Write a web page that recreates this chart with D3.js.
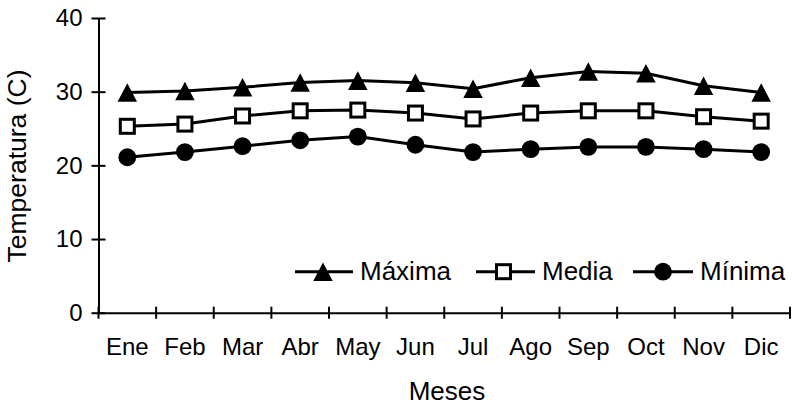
<!DOCTYPE html>
<html>
<head>
<meta charset="utf-8">
<script src="https://cdn.jsdelivr.net/npm/d3@7/dist/d3.min.js"></script>
<style>
  html, body { margin: 0; padding: 0; background: #fff; }
  svg { display: block; }
  text { font-family: "Liberation Sans", Arial, sans-serif; fill: #000; }
</style>
</head>
<body>
<svg id="chart" width="792" height="405"></svg>
<script>
const months = ["Ene","Feb","Mar","Abr","May","Jun","Jul","Ago","Sep","Oct","Nov","Dic"];
const maxima = [29.9, 30.1, 30.6, 31.25, 31.5, 31.2, 30.4, 31.9, 32.75, 32.5, 30.8, 29.9];
const media  = [25.3, 25.6, 26.7, 27.4, 27.5, 27.1, 26.3, 27.1, 27.4, 27.4, 26.6, 26.0];
const minima = [21.1, 21.8, 22.6, 23.4, 23.9, 22.8, 21.8, 22.2, 22.5, 22.5, 22.2, 21.8];
const yTicks = [0, 10, 20, 30, 40];
const seriesNames = ["Máxima", "Media", "Mínima"];

(function () {
const svg = d3.select("#chart");
const mLeft = 98.5, mRight = 790, mTop = 18, mBottom = 312.7;
const FONT = "Liberation Sans, Arial, sans-serif";

const x = d3.scaleBand().domain(months).range([mLeft, mRight]).padding(0);
const y = d3.scaleLinear().domain([0, 40]).range([mBottom, mTop]);

// Axes
const yAxis = d3.axisLeft(y).tickValues(yTicks).tickSize(0).tickPadding(16);
const gy = svg.append("g").attr("transform", `translate(${mLeft},0)`).call(yAxis);
gy.select(".domain").attr("stroke", "#000").attr("stroke-width", 2);
gy.selectAll(".tick text").attr("font-size", 24).attr("font-family", FONT).attr("fill", "#000");
gy.selectAll(".tick").append("line").attr("x1", -7).attr("x2", 7).attr("stroke", "#000").attr("stroke-width", 2);

const xAxis = d3.axisBottom(x).tickSize(0).tickPadding(25);
const gx = svg.append("g").attr("transform", `translate(0,${mBottom})`).call(xAxis);
gx.select(".domain").attr("stroke", "#000").attr("stroke-width", 2);
gx.selectAll(".tick text").attr("font-size", 24).attr("font-family", FONT).attr("fill", "#000");
// boundary ticks between categories
const bounds = months.map(m => x(m)).concat([x(months[months.length-1]) + x.bandwidth()]);
gx.selectAll(".bound").data(bounds).enter().append("line")
  .attr("x1", d => d).attr("x2", d => d).attr("y1", -6).attr("y2", 6)
  .attr("stroke", "#000").attr("stroke-width", 2);

// Axis titles
svg.append("text").attr("x", 447).attr("y", 400).attr("text-anchor", "middle")
  .attr("font-size", 26).text("Meses");
svg.append("text").attr("transform", "translate(26,166) rotate(-90)").attr("text-anchor", "middle")
  .attr("font-size", 26.5).text("Temperatura (C)");

const cx = m => x(m) + x.bandwidth() / 2;
const line = d3.line().x((d, i) => cx(months[i])).y(d => y(d));

// Excel-like isosceles triangle, centred on its bounding box
const excelTriangle = {
  draw(ctx, size) {
    const w = Math.sqrt(size), h = w * 0.95;
    ctx.moveTo(0, -h / 2);
    ctx.lineTo(w / 2, h / 2);
    ctx.lineTo(-w / 2, h / 2);
    ctx.closePath();
  }
};
const triangle = d3.symbol().type(excelTriangle).size(380);
const circle = d3.symbol().type(d3.symbolCircle).size(250);

function drawMarker(g, type, px, py) {
  if (type === 0) {
    g.append("path").attr("d", triangle()).attr("transform", `translate(${px},${py})`).attr("fill", "#000");
  } else if (type === 1) {
    g.append("rect").attr("x", px - 7).attr("y", py - 7).attr("width", 14).attr("height", 14)
      .attr("fill", "#fff").attr("stroke", "#000").attr("stroke-width", 3);
  } else {
    g.append("path").attr("d", circle()).attr("transform", `translate(${px},${py})`).attr("fill", "#000");
  }
}

const allSeries = [maxima, media, minima];
allSeries.forEach((s, k) => {
  const g = svg.append("g");
  g.append("path").datum(s).attr("d", line).attr("fill", "none").attr("stroke", "#000").attr("stroke-width", 3);
  s.forEach((v, i) => drawMarker(g, k, cx(months[i]), y(v)));
});

// Legend
const legendY = 271.7;
const legendItems = [
  { lx1: 295, lx2: 353, mx: 323, tx: 360 },
  { lx1: 476, lx2: 535, mx: 503.5, tx: 542 },
  { lx1: 633, lx2: 693, mx: 663, tx: 700 }
];
legendItems.forEach((it, k) => {
  const g = svg.append("g");
  g.append("line").attr("x1", it.lx1).attr("x2", it.lx2).attr("y1", legendY).attr("y2", legendY)
    .attr("stroke", "#000").attr("stroke-width", 3);
  drawMarker(g, k, it.mx, legendY);
  g.append("text").attr("x", it.tx).attr("y", legendY + 8.5).attr("font-size", 26).text(seriesNames[k]);
});
})();
</script>
</body>
</html>
